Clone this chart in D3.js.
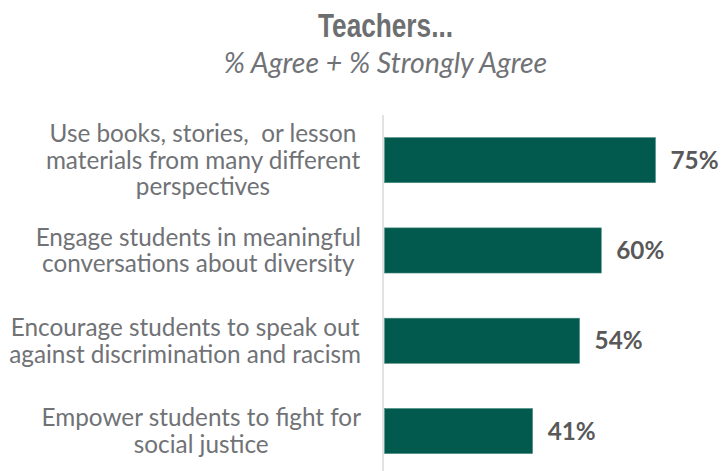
<!DOCTYPE html>
<html>
<head>
<meta charset="utf-8">
<script src="https://cdn.jsdelivr.net/npm/d3@7"></script>
<style>
  html, body { margin: 0; padding: 0; background: #ffffff; }
  svg { display: block; }
  tspan, text { white-space: pre; }
</style>
</head>
<body>
<svg id="chart" width="721" height="471"></svg>
<script>
// Survey items, each wrapped into the lines shown beside its bar
const categories = [
  ["Use books, stories,  or lesson", "materials from many different", "perspectives"],
  ["Engage students in meaningful", "conversations about diversity"],
  ["Encourage students to speak out", "against discrimination and racism"],
  ["Empower students to fight for", "social justice"]
];
// Share of teachers answering Agree or Strongly Agree
const values = [0.75, 0.60, 0.54, 0.41];
const valueLabels = ["75%", "60%", "54%", "41%"];

const titleText = "Teachers...";
const subtitleText = "% Agree + % Strongly Agree";

const W = 721, H = 471;
const svg = d3.select("#chart");

const barColor = "#02594d";
const textGray = "#707276";
const valueGray = "#595959";

const keys = categories.map((c, i) => i);

const y = d3.scaleBand()
  .domain(keys)
  .range([115, 476.2])
  .paddingInner(0.5)
  .paddingOuter(0.25);

const x = d3.scaleLinear()
  .domain([0, 1])
  .range([384.5, 745.8]);

// Title and subtitle
svg.append("text")
  .attr("x", 385.5)
  .attr("y", 36.7)
  .attr("text-anchor", "middle")
  .attr("font-family", "'Liberation Sans', Arial, sans-serif")
  .attr("font-weight", "bold")
  .attr("font-size", 34)
  .attr("fill", "#6d6e70")
  .attr("textLength", 135)
  .attr("lengthAdjust", "spacingAndGlyphs")
  .text(titleText);

svg.append("text")
  .attr("x", 385.5)
  .attr("y", 73)
  .attr("text-anchor", "middle")
  .attr("font-family", "Lato, sans-serif")
  .attr("font-style", "italic")
  .attr("font-size", 28.5)
  .attr("fill", textGray)
  .text(subtitleText);

// Vertical category axis line
svg.append("line")
  .attr("x1", 383).attr("x2", 383)
  .attr("y1", 115).attr("y2", H)
  .attr("stroke", "#d9d9d9")
  .attr("stroke-width", 1.5);

// Bars
svg.selectAll("rect.bar")
  .data(keys)
  .join("rect")
  .attr("class", "bar")
  .attr("x", x(0))
  .attr("y", d => y(d))
  .attr("width", d => x(values[d]) - x(0))
  .attr("height", y.bandwidth())
  .attr("fill", barColor)
  .attr("stroke", "#4f8f83")
  .attr("stroke-width", 0.6);

// Value labels
svg.selectAll("text.value")
  .data(keys)
  .join("text")
  .attr("class", "value")
  .attr("x", d => x(values[d]) + 15)
  .attr("y", d => y(d) + y.bandwidth() / 2)
  .attr("dy", "0.35em")
  .attr("font-family", "Lato, sans-serif")
  .attr("font-weight", "bold")
  .attr("font-size", 24.3)
  .attr("fill", valueGray)
  .text(d => valueLabels[d]);

// Category labels, centred in a box that ends left of the axis
const labelFont = 24.3;
const lineGap = 26.6;
const boxRight = 361;
const maxCenter = 203;

const groups = svg.selectAll("g.cat")
  .data(keys)
  .join("g")
  .attr("class", "cat");

groups.each(function(d) {
  const g = d3.select(this);
  const lines = categories[d];
  const cy = y(d) + y.bandwidth() / 2;
  const t = g.append("text")
    .attr("font-family", "Lato, sans-serif")
    .attr("font-size", labelFont)
    .attr("fill", textGray)
    .attr("text-anchor", "middle");
  lines.forEach((ln, i) => {
    t.append("tspan")
      .attr("y", cy + (i - (lines.length - 1) / 2) * lineGap)
      .attr("dy", "0.35em")
      .text(ln);
  });
  let widest = 0;
  t.selectAll("tspan").each(function() {
    widest = Math.max(widest, this.getComputedTextLength());
  });
  const cx = Math.min(maxCenter, boxRight - widest / 2);
  t.selectAll("tspan").attr("x", cx);
});
</script>
</body>
</html>
